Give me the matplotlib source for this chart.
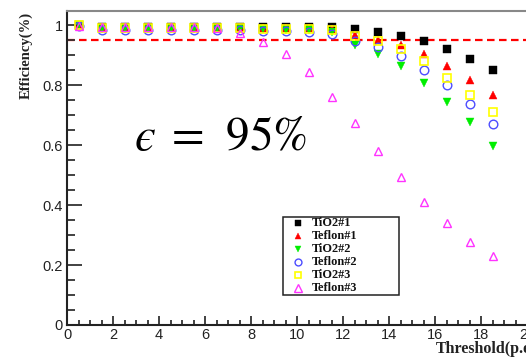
import matplotlib
matplotlib.use("Agg")
import matplotlib.pyplot as plt
from matplotlib.ticker import MultipleLocator
from matplotlib.lines import Line2D
from matplotlib.patches import Rectangle

# Threshold bins (p.e.)
threshold = [0.5, 1.5, 2.5, 3.5, 4.5, 5.5, 6.5, 7.5, 8.5, 9.5,
             10.5, 11.5, 12.5, 13.5, 14.5, 15.5, 16.5, 17.5, 18.5]

tio2_1 = [1.000, 0.995, 0.995, 0.995, 0.995, 0.995, 0.995, 0.995, 0.995, 0.994,
          0.993, 0.992, 0.987, 0.977, 0.963, 0.946, 0.920, 0.887, 0.851]
teflon_1 = [1.000, 0.992, 0.992, 0.992, 0.992, 0.992, 0.991, 0.991, 0.990, 0.990,
            0.989, 0.987, 0.966, 0.950, 0.933, 0.903, 0.863, 0.817, 0.767]
tio2_2 = [1.000, 0.988, 0.988, 0.988, 0.988, 0.988, 0.988, 0.987, 0.986, 0.985,
          0.983, 0.976, 0.934, 0.903, 0.864, 0.808, 0.744, 0.678, 0.598]
teflon_2 = [0.998, 0.983, 0.983, 0.983, 0.983, 0.983, 0.983, 0.982, 0.981, 0.980,
            0.978, 0.969, 0.946, 0.927, 0.896, 0.851, 0.800, 0.737, 0.671]
tio2_3 = [1.000, 0.990, 0.990, 0.990, 0.990, 0.990, 0.990, 0.989, 0.988, 0.987,
          0.986, 0.983, 0.965, 0.946, 0.919, 0.879, 0.824, 0.768, 0.709]
teflon_3 = [0.998, 0.995, 0.995, 0.995, 0.995, 0.994, 0.989, 0.972, 0.944, 0.902,
            0.842, 0.760, 0.672, 0.580, 0.494, 0.410, 0.341, 0.277, 0.231]

labels = ["TiO2#1", "Teflon#1", "TiO2#2", "Teflon#2", "TiO2#3", "Teflon#3"]
series = [tio2_1, teflon_1, tio2_2, teflon_2, tio2_3, teflon_3]
styles = [
    dict(marker="s", mfc="black", mec="black", ms=5.6, mew=0.3),
    dict(marker="^", mfc="#ff0000", mec="#ff0000", ms=6.2, mew=0.3),
    dict(marker="v", mfc="#00ee00", mec="#00ee00", ms=6.2, mew=0.3),
    dict(marker="o", mfc="none", mec="#4d4dff", ms=6.2, mew=1.0),
    dict(marker="s", mfc="none", mec="#ffff00", ms=6.0, mew=1.2),
    dict(marker="^", mfc="none", mec="#ff33ff", ms=6.4, mew=1.0),
]

eff_cut = 0.95

W, H = 526, 357
plt.rcParams["mathtext.fontset"] = "stix"
fig = plt.figure(figsize=(W / 100, H / 100), dpi=100)
ax = fig.add_axes([67 / W, (H - 325) / H, 460 / W, 314 / H])

for y, st in zip(series, styles):
    ax.plot(threshold, y, linestyle="none", **st)

ax.axhline(eff_cut, color="#ff0000", linestyle=(0, (3.4, 2.0)), linewidth=1.6, zorder=0.5)

ax.set_xlim(0, 20)
ax.set_ylim(0, 1.047)
ax.xaxis.set_minor_locator(MultipleLocator(0.5))
ax.yaxis.set_minor_locator(MultipleLocator(0.05))
ax.set_yticks([0, 0.2, 0.4, 0.6, 0.8, 1.0])
ax.set_yticklabels(["0", "0.2", "0.4", "0.6", "0.8", "1"])
ax.set_xticks(range(0, 21, 2))
ax.set_xticklabels([str(v) for v in range(0, 21, 2)])

for lab in ax.get_xticklabels() + ax.get_yticklabels():
    lab.set_fontfamily("Liberation Sans")
    lab.set_fontsize(10.5)
    lab.set_color("#222222")

ax.tick_params(axis="y", which="major", direction="in", length=11, width=1.3, pad=3, color="#333333")
ax.tick_params(axis="y", which="minor", direction="in", length=5.5, width=1.3, color="#333333")
ax.tick_params(axis="x", which="major", direction="in", length=6.5, width=1.3, pad=2, color="#333333")
ax.tick_params(axis="x", which="minor", direction="in", length=3.5, width=1.3, color="#333333")
ax.tick_params(top=False, right=False)

for side in ("left", "bottom"):
    ax.spines[side].set_linewidth(1.5)
    ax.spines[side].set_color("#222222")
ax.spines["top"].set_color("#888888")
ax.spines["top"].set_linewidth(1.5)

fig.text(26 / W, 1 - 12 / H, "Efficiency(%)", rotation=90, ha="center", va="top",
         family="Liberation Serif", weight="bold", fontsize=10.5, color="#222222")
fig.text(436 / W, 1 - 349 / H, "Threshold(p.e.)", ha="left", va="center",
         family="Liberation Serif", weight="bold", fontsize=11.5, color="#222222")

fig.text(134 / W, 1 - 150 / H, "$\u03f5\\;=\\;\\,95\\%$", ha="left", va="baseline",
         fontsize=34, color="black")

# legend box with marker/label rows
fig.add_artist(Rectangle((283 / W, 1 - 295 / H), 116 / W, 78 / H,
                         transform=fig.transFigure, fill=True, facecolor="white",
                         edgecolor="#222222", linewidth=1.1, zorder=5))
for i, (lab, st) in enumerate(zip(labels, styles)):
    yy = 1 - (222.5 + 13.1 * i) / H
    fig.add_artist(Line2D([297.5 / W], [yy], transform=fig.transFigure, linestyle="none",
                          zorder=6, **{**st, "ms": st["ms"] * 0.8}))
    fig.text(312 / W, yy, lab, ha="left", va="center", family="Liberation Serif",
             weight="bold", fontsize=8.8, color="#111111", zorder=6)

fig.savefig("out.png", dpi=100)
